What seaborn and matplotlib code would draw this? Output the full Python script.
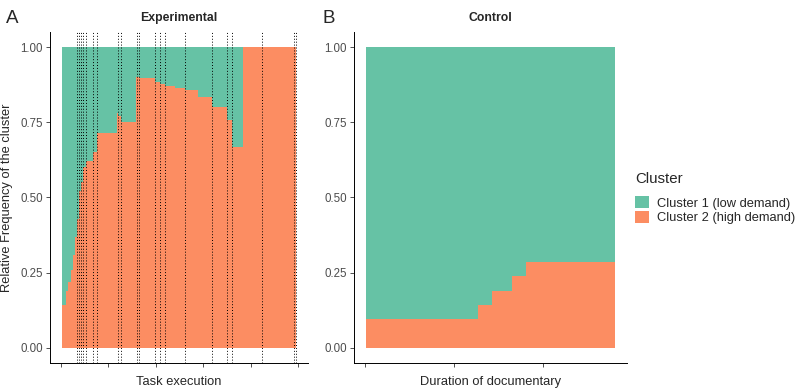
import numpy as np
import matplotlib
matplotlib.use("Agg")
import matplotlib.pyplot as plt
import seaborn as sns
from matplotlib.patches import Patch

# --- data ---
clusters = ["Cluster 1 (low demand)", "Cluster 2 (high demand)"]

# experimental group: step edges (task time) and share of cluster 2
exp_edges = [0.4, 2.4, 3.0, 4.5, 5.0, 6.0, 6.65, 7.75, 8.6, 9.45, 10.6, 13.4, 15.1,
             23.5, 24.3, 25.3, 31.5, 33.05, 39.5, 41.9, 44.1, 48.0, 52.5, 58.0,
             63.6, 70.2, 72.0, 76.8, 99.2]
exp_high = [0.143, 0.19, 0.22, 0.26, 0.31, 0.37, 0.43, 0.52, 0.55, 0.60, 0.62, 0.65,
            0.714, 0.78, 0.77, 0.75, 0.90, 0.897, 0.885, 0.878, 0.872, 0.865, 0.857,
            0.833, 0.80, 0.757, 0.667, 1.0]
# task event markers (dotted lines)
exp_events = [6.65, 7.75, 8.6, 9.45, 10.6, 13.4, 15.1, 24.3, 25.3, 32.1, 33.05,
              39.5, 41.9, 44.1, 52.5, 63.6, 70.2, 72.0, 84.6, 98.2, 99.2]

# control group: documentary time and share of cluster 2
ctl_edges = [2, 127, 143, 165, 181, 280]
ctl_high = [0.095, 0.143, 0.19, 0.238, 0.286]

sns.set_theme(style="ticks")
plt.rcParams["font.family"] = ["Liberation Sans", "DejaVu Sans"]
pal = sns.color_palette("Set2", 2)
green, orange = pal[0], pal[1]

fig = plt.figure(figsize=(8, 3.89), dpi=100)
ax1 = fig.add_axes([0.0625, 0.0668, 0.3225, 0.851])
ax2 = fig.add_axes([0.4425, 0.0668, 0.34125, 0.851])


def draw_panel(ax, edges, high, title, xlabel, xticks):
    high = np.array(high)
    ax.stairs(np.ones_like(high), edges, baseline=0, fill=True, color=green, lw=0)
    ax.stairs(high, edges, baseline=0, fill=True, color=orange, lw=0)
    span = edges[-1] - edges[0]
    ax.set_xlim(edges[0] - 0.05 * span, edges[-1] + 0.05 * span)
    ax.set_ylim(-0.05, 1.05)
    ax.set_yticks([0, 0.25, 0.5, 0.75, 1.0])
    ax.set_yticklabels(["0.00", "0.25", "0.50", "0.75", "1.00"])
    ax.set_xticks(xticks)
    ax.set_xticklabels([])
    ax.set_title(title, fontsize=8.8, fontweight="bold", pad=8)
    ax.set_xlabel(xlabel, fontsize=9.3, labelpad=4)
    ax.tick_params(axis="both", length=3, width=0.6, color="#333333",
                   labelsize=8.3, labelcolor="#4D4D4D", pad=2)
    for s in ["left", "bottom"]:
        ax.spines[s].set_linewidth(0.7)
        ax.spines[s].set_color("black")
    sns.despine(ax=ax)


draw_panel(ax1, exp_edges, exp_high, "Experimental", "Task execution",
           [0, 20, 40, 60, 80, 100])
draw_panel(ax2, ctl_edges, ctl_high, "Control", "Duration of documentary",
           [0, 100, 200])

for ev in exp_events:
    ax1.axvline(ev, color="black", lw=0.7, ls=(0, (1, 2)), zorder=3)

ax1.set_ylabel("Relative Frequency of the cluster", fontsize=9.3, labelpad=5)

fig.text(0.008, 0.975, "A", fontsize=13.5, va="top", ha="left")
fig.text(0.403, 0.975, "B", fontsize=13.5, va="top", ha="left")

handles = [Patch(facecolor=green, edgecolor="none"), Patch(facecolor=orange, edgecolor="none")]
leg = fig.legend(handles, clusters, title="Cluster", loc="center left",
                 bbox_to_anchor=(0.779, 0.49), frameon=False, fontsize=9.3,
                 title_fontsize=10.8, handlelength=1.1, handleheight=1.1,
                 handletextpad=0.6, labelspacing=0.1, alignment="left")
leg._legend_box.sep = 7

fig.savefig("out.png", dpi=100)
